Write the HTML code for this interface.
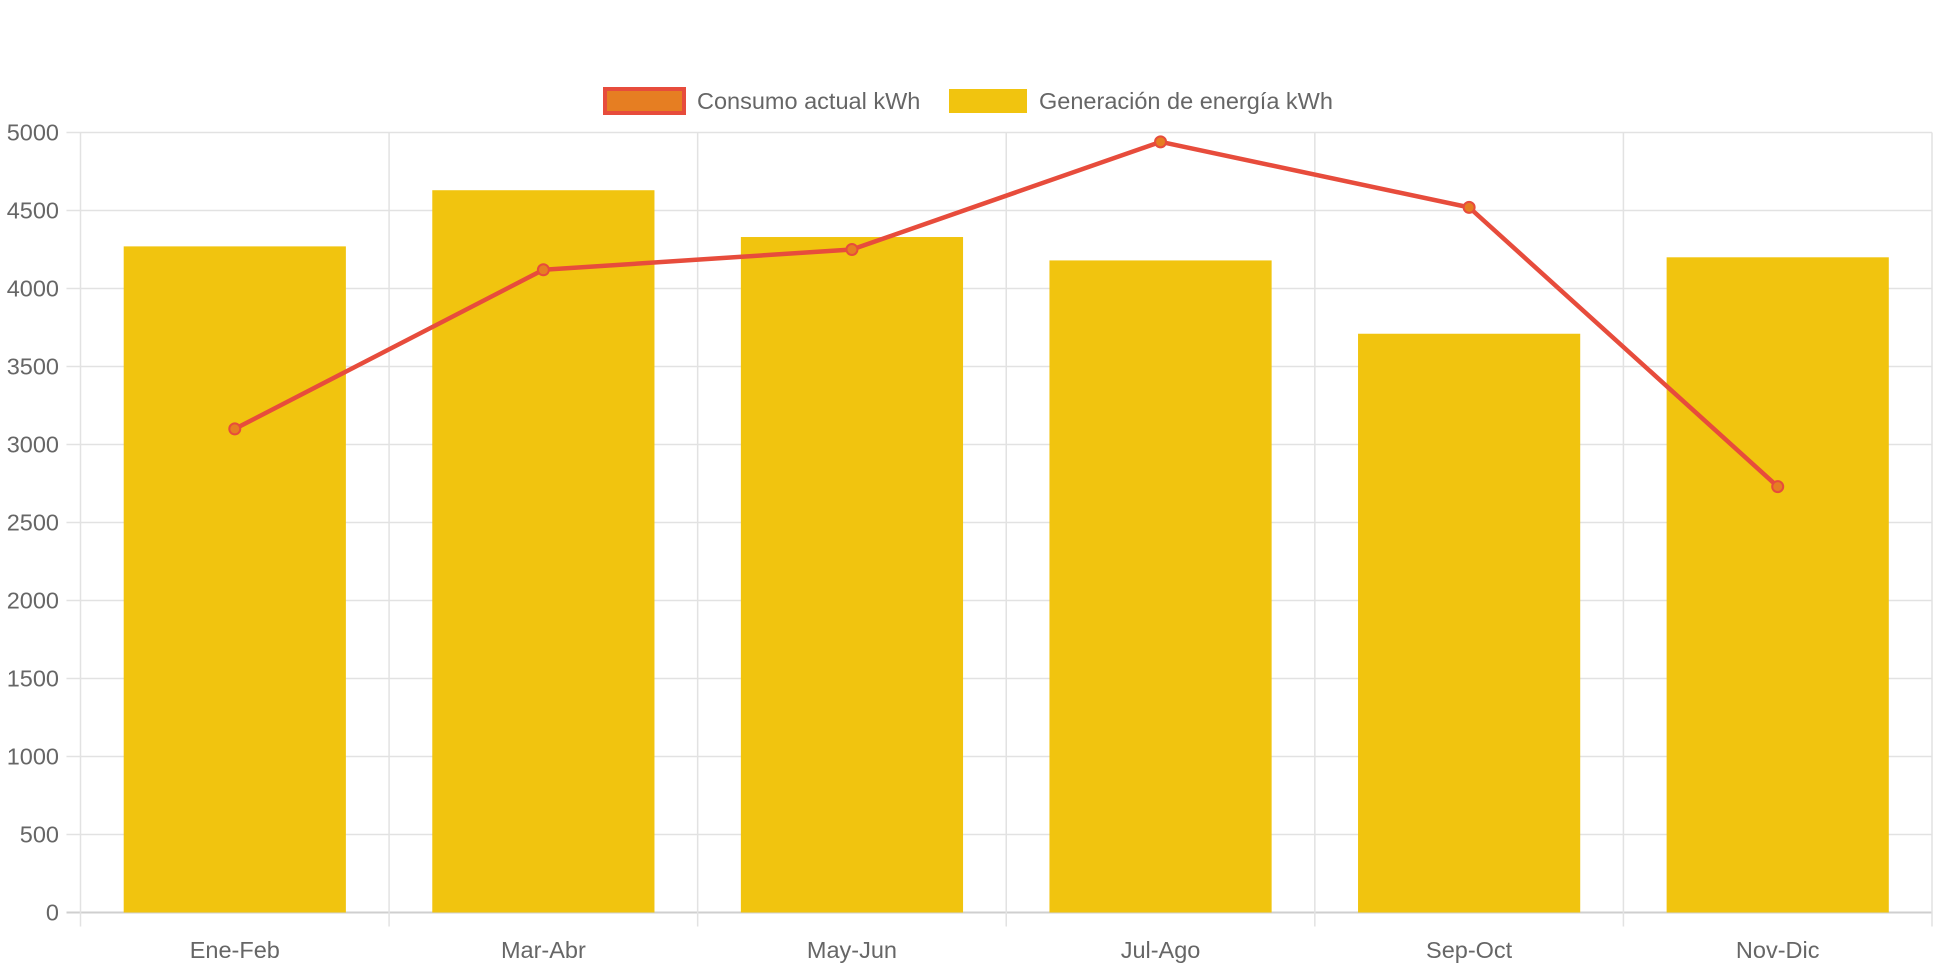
<!DOCTYPE html>
<html><head><meta charset="utf-8"><style>
html,body{margin:0;padding:0;background:#fff;width:1942px;height:970px;overflow:hidden}
svg text{font-family:"Liberation Sans",Arial,sans-serif;fill:#666}
</style></head><body>
<svg id="chart" width="1942" height="970" xmlns="http://www.w3.org/2000/svg"></svg>
<script>
const categories=["Ene-Feb","Mar-Abr","May-Jun","Jul-Ago","Sep-Oct","Nov-Dic"];
const generacion=[4270,4630,4330,4180,3710,4200];
const consumo=[3100,4120,4250,4940,4520,2730];
const yTicks=[0,500,1000,1500,2000,2500,3000,3500,4000,4500,5000];
const L=80.5,R=1932,T=132.5,B=912.5,YMAX=5000;
const svg=document.getElementById('chart');
const NS="http://www.w3.org/2000/svg";
function y(v){return B-(v/YMAX)*(B-T);}
const cw=(R-L)/categories.length;
function xc(i){return L+cw*(i+0.5);}
function mk(tag,attrs,parent){const e=document.createElementNS(NS,tag);for(const k in attrs)e.setAttribute(k,attrs[k]);(parent||svg).appendChild(e);return e;}
yTicks.forEach(v=>{
  const g=mk('line',{x1:L-14,x2:R,y1:y(v),y2:y(v),stroke:v===0?'#cfcfcf':'#e2e2e2','stroke-width':v===0?2:1.5});
  
  
  const t=mk('text',{x:59,y:y(v)+8,'text-anchor':'end','font-size':23.5});
  t.textContent=v;
  
  
});
for(let i=0;i<=categories.length;i++){
  const x=L+cw*i;
  const g=mk('line',{x1:x,x2:x,y1:T,y2:B+14,stroke:'#e2e2e2','stroke-width':1.5});
  
  
}
const bw=cw*0.72;
generacion.forEach((v,i)=>{
  const r=mk('rect',{x:xc(i)-bw/2,y:y(v),width:bw,height:B-y(v),fill:'#f1c40f'});
  
  
  const t=mk('text',{x:xc(i),y:958,'text-anchor':'middle','font-size':23.5});
  t.textContent=categories[i];
  
  
});
const pl=mk('polyline',{points:consumo.map((v,i)=>xc(i)+','+y(v)).join(' '),fill:'none',stroke:'#e74c3c','stroke-width':4.5,'stroke-linejoin':'round'});


consumo.forEach((v,i)=>{
  const c=mk('circle',{cx:xc(i),cy:y(v),r:5.5,fill:'#e67e22',stroke:'#e74c3c','stroke-width':2});
  
  
});
const lg=mk('g',{});


const b1=mk('rect',{x:605,y:89,width:79,height:24,fill:'#e67e22',stroke:'#e74c3c','stroke-width':4},lg);


const t1=mk('text',{x:697,y:109,'font-size':23.5},lg);
t1.textContent='Consumo actual kWh';


const b2=mk('rect',{x:949,y:89,width:78,height:24,fill:'#f1c40f'},lg);


const t2=mk('text',{x:1039,y:109,'font-size':23.5},lg);
t2.textContent='Generación de energía kWh';


</script>
</body></html>
